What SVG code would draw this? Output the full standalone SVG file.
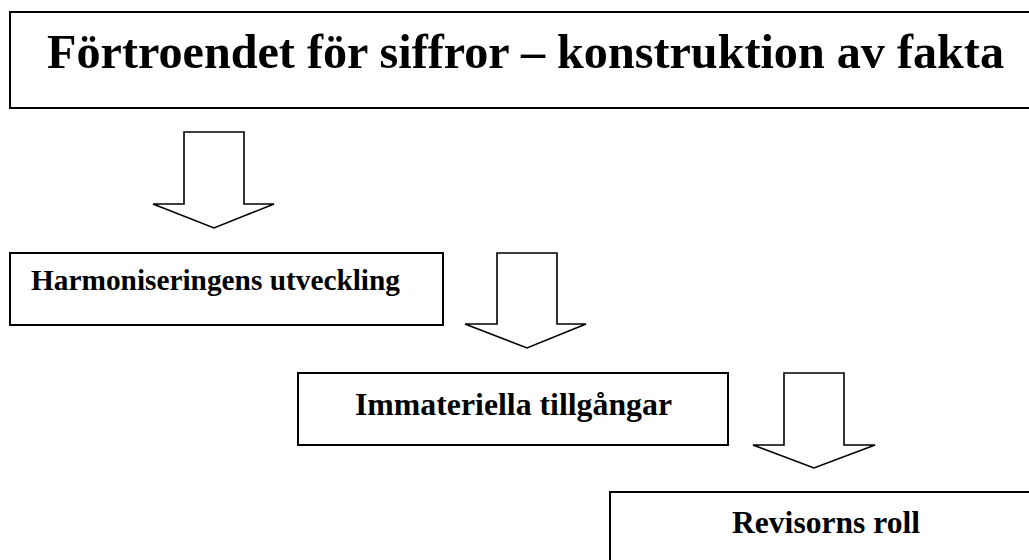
<svg xmlns="http://www.w3.org/2000/svg" width="1029" height="560" viewBox="0 0 1029 560">
<style>
.box{fill:#fff;stroke:#000;stroke-width:2}
.arr{fill:#fff;stroke:#000;stroke-width:1.6;stroke-linejoin:miter}
.t{font-family:"Liberation Serif","Times New Roman",serif;font-weight:bold;fill:#000}
</style>
<rect width="1029" height="560" fill="#fff"/>
<g id="title">
<rect class="box" x="10" y="12" width="1040" height="96"/>
<text class="t" x="47" y="68" font-size="48.5" textLength="957" lengthAdjust="spacingAndGlyphs">Förtroendet för siffror – konstruktion av fakta</text>
</g>
<g id="connectors">
<path class="arr" d="M184,132 H244 V204 H274 L214,228 L153,204 H184 Z"/>
<path class="arr" d="M497,253 H557 V324 H586 L527,348 L465,324 H497 Z"/>
<path class="arr" d="M784,373 H844 V445 H875 L814,468 L753,445 H784 Z"/>
</g>
<g id="harmonisering">
<rect class="box" x="10" y="253" width="433" height="72"/>
<text class="t" x="31" y="290" font-size="28.5" textLength="369" lengthAdjust="spacingAndGlyphs">Harmoniseringens utveckling</text>
</g>
<g id="immateriella">
<rect class="box" x="298" y="373" width="430" height="72"/>
<text class="t" x="355" y="415" font-size="31" textLength="317" lengthAdjust="spacingAndGlyphs">Immateriella tillgångar</text>
</g>
<g id="revisor">
<rect class="box" x="610" y="492" width="500" height="100"/>
<text class="t" x="732" y="533" font-size="31.5" textLength="188" lengthAdjust="spacingAndGlyphs">Revisorns roll</text>
</g>
</svg>
